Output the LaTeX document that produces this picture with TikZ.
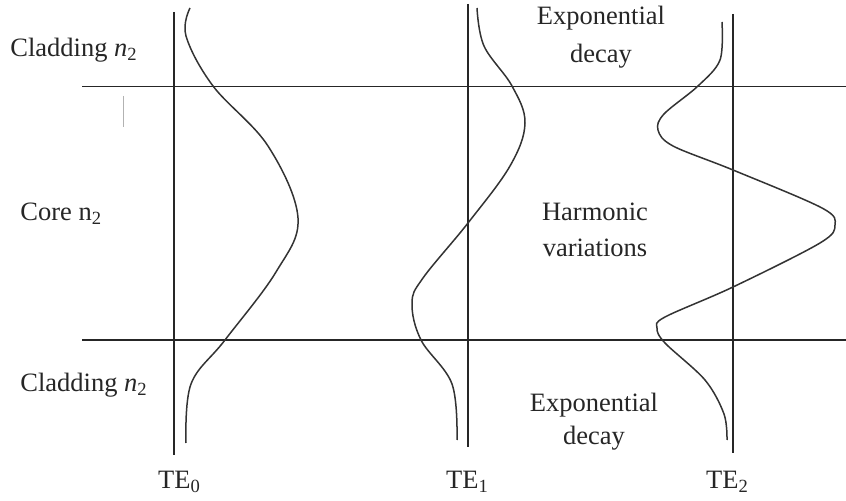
\documentclass[tikz,border=0pt]{standalone}
\usepackage{fontspec}
\setmainfont{Liberation Serif}
\newcommand\lblsub[1]{\raisebox{-0.3ex}{\fontsize{9.3}{10}\selectfont #1}}
\begin{document}
\begin{tikzpicture}[x=0.5pt,y=-0.5pt,
  axis/.style={line width=0.8pt,black!85},
  mode/.style={line width=0.75pt,black!80},
  lbl/.style={inner sep=0pt,font=\fontsize{13.25}{18}\selectfont,text=black!85}]
\useasboundingbox (0,0) rectangle (846,501);
% guide lines
\coordinate (h1a) at (82,86.5); \coordinate (h1b) at (846,86.5);
\coordinate (h2a) at (82,340); \coordinate (h2b) at (846,340);
\coordinate (v1a) at (174,12); \coordinate (v1b) at (174,455);
\coordinate (v2a) at (468,4); \coordinate (v2b) at (468,447);
\coordinate (v3a) at (733,14); \coordinate (v3b) at (733,453);
\coordinate (ta) at (123,96); \coordinate (tb) at (123,127);
\draw[axis] (h1a) -- (h1b);
\draw[axis] (h2a) -- (h2b);
\draw[axis] (v1a) -- (v1b);
\draw[axis] (v2a) -- (v2b);
\draw[axis] (v3a) -- (v3b);
\draw[line width=0.5pt,black!30] (ta) -- (tb);
% TE0
\draw[mode] plot[smooth,tension=0.6] coordinates {(190,8) (186,36) (213,86) (268,146) (298,218) (276,272) (225,340) (191,384) (186,443)};
% TE1
\draw[mode] plot[smooth,tension=0.6] coordinates {(477,8) (484,46) (512,86) (525,123) (510,166) (468,223) (423,278) (412,303) (421,340) (452,384) (457,440)};
% TE2
\draw[mode] plot[smooth,tension=0.55] coordinates {(722,22) (720,60) (698,86) (664,114) (658,130) (673,146) (733,170) (822,208) (835,225) (820,243) (733,287) (665,317) (657,328) (665,343) (705,380) (724,414) (727,440)};
% labels
\node[lbl,anchor=base west] (clad1) at (10,57) {Cladding \textit{n}\lblsub{2}};
\node[lbl,anchor=base west] (core) at (20,221) {Core n\lblsub{2}};
\node[lbl,anchor=base west] (clad2) at (20,392) {Cladding \textit{n}\lblsub{2}};
\node[lbl,anchor=base] (exp1) at (601,25) {Exponential};
\node[lbl,anchor=base] (dec1) at (601,63) {decay};
\node[lbl,anchor=base] (harm) at (595,221) {Harmonic};
\node[lbl,anchor=base] (var) at (595,257) {variations};
\node[lbl,anchor=base] (exp2) at (594,412) {Exponential};
\node[lbl,anchor=base] (dec2) at (594,445) {decay};
\node[lbl,anchor=base] (te0) at (179,489) {TE\lblsub{0}};
\node[lbl,anchor=base] (te1) at (467,489) {TE\lblsub{1}};
\node[lbl,anchor=base] (te2) at (727,489) {TE\lblsub{2}};
\end{tikzpicture}
\end{document}
